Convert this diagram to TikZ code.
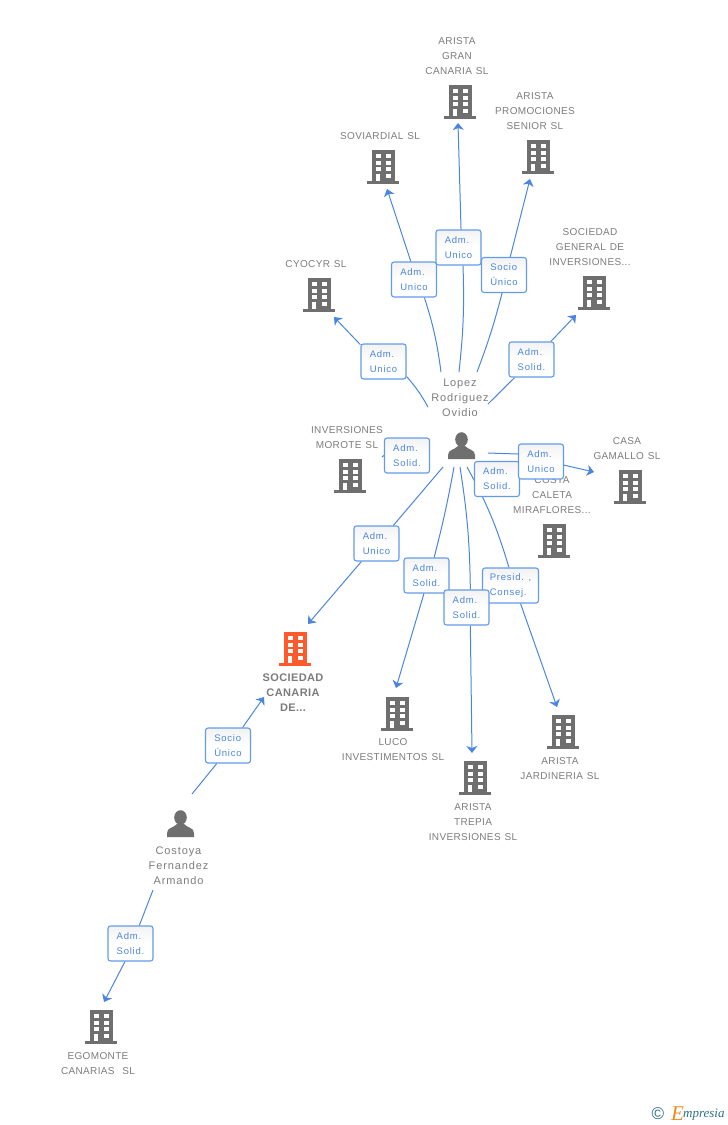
\documentclass[tikz,border=0pt]{standalone}
\usepackage{fontspec}
\setmainfont{Liberation Sans}
\newfontfamily\namefont[LetterSpace=3.5,WordSpace=1.25]{Liberation Sans}
\newfontfamily\personfont[LetterSpace=8]{Liberation Sans}
\newfontfamily\rolefont[LetterSpace=8]{Liberation Sans}
\newfontfamily\logofont{Liberation Serif}
\usetikzlibrary{arrows.meta,backgrounds}
\definecolor{iconGrey}{HTML}{6F6F6F}
\definecolor{textGrey}{HTML}{7C7C7C}
\definecolor{linkBlue}{HTML}{4A86E0}
\definecolor{boxBlue}{HTML}{629BEA}
\definecolor{mainOrange}{HTML}{FF5A2C}
\definecolor{logoTeal}{HTML}{2F6F85}
\definecolor{logoOrange}{HTML}{F08A1D}
\tikzset{
  link/.style={draw=linkBlue,line width=1pt},
  tip/.style={link,-{Stealth[length=7pt,width=11pt,inset=2pt]}},
  rolebox/.style={draw=boxBlue,line width=1.1pt,rounded corners=2.5pt,top color=black!5,bottom color=white,middle color=white,
    minimum width=45pt,minimum height=35pt,inner sep=0pt,align=left,text=linkBlue,font=\rolefont\fontsize{9.5}{15}\selectfont},
  firm/.style={align=center,inner sep=0pt,text=textGrey,font=\namefont\fontsize{10}{15}\selectfont},
  mainfirm/.style={firm,font=\namefont\bfseries\fontsize{11}{15}\selectfont},
  person/.style={align=center,inner sep=0pt,text=textGrey,font=\personfont\fontsize{11}{15}\selectfont},
  pics/bldg/.style={code={
    \fill[#1] (-16,-3) rectangle (16,0);
    \fill[#1] (-11.5,-34) rectangle (11.5,-3);
    \foreach \wy in {-30,-23.5,-17}{
      \fill[white] (-7.3,\wy) rectangle (-2.3,\wy+4);
      \fill[white] (2.7,\wy) rectangle (7.7,\wy+4);
    }
    \fill[white] (-7.3,-10.5) rectangle (-3,-3);
    \fill[white] (2.7,-10.5) rectangle (7.7,-6);
  }},
  pics/human/.style={code={
    \fill[iconGrey] (0,-19.5) ellipse (6.3 and 7.3);
    \fill[iconGrey] (-13.5,0) -- (-13.5,-4) .. controls (-13.5,-9.5) and (-7,-9) .. (-3.5,-13)
      -- (3.5,-13) .. controls (7,-9) and (13.5,-9.5) .. (13.5,-4) -- (13.5,0) -- cycle;
  }}
}
\begin{document}
\begin{tikzpicture}[x=1pt,y=-1pt]
\useasboundingbox (0,0) rectangle (728,1125);

\pic (gran) at (460,119) {bldg=iconGrey};
\pic (promo) at (538,174) {bldg=iconGrey};
\pic (soviar) at (383,184) {bldg=iconGrey};
\pic (cyocyr) at (319,312) {bldg=iconGrey};
\pic (socgen) at (594,310) {bldg=iconGrey};
\pic (morote) at (350,493) {bldg=iconGrey};
\pic (gamallo) at (630,504) {bldg=iconGrey};
\pic (caleta) at (554,558) {bldg=iconGrey};
\pic (canaria) at (295,666) {bldg=mainOrange};
\pic (luco) at (397,731) {bldg=iconGrey};
\pic (trepia) at (475,795) {bldg=iconGrey};
\pic (jardin) at (563,749) {bldg=iconGrey};
\pic (egomonte) at (101,1044) {bldg=iconGrey};
\pic (lopez) at (461.5,459) {human};
\pic (costoya) at (180.5,837) {human};

\node[firm] (granName) at (457,56) {ARISTA\\GRAN\\CANARIA SL};
\node[firm] (promoName) at (535,111) {ARISTA\\PROMOCIONES\\SENIOR SL};
\node[firm] (soviarName) at (380,136) {SOVIARDIAL SL};
\node[firm] (cyocyrName) at (316,264) {CYOCYR SL};
\node[firm] (socgenName) at (590,247) {SOCIEDAD\\GENERAL DE\\INVERSIONES...};
\node[firm] (moroteName) at (347,437.5) {INVERSIONES\\MOROTE SL};
\node[firm] (gamalloName) at (627,448.5) {CASA\\GAMALLO SL};
\node[firm] (caletaName) at (552,495) {COSTA\\CALETA\\MIRAFLORES...};
\node[mainfirm] (canariaName) at (293,692.5) {SOCIEDAD\\CANARIA\\DE...};
\node[firm] (lucoName) at (393,749.5) {LUCO\\INVESTIMENTOS SL};
\node[firm] (trepiaName) at (473,822) {ARISTA\\TREPIA\\INVERSIONES SL};
\node[firm] (jardinName) at (560,768.5) {ARISTA\\JARDINERIA SL};
\node[firm] (egomonteName) at (98,1063.5) {EGOMONTE\\CANARIAS\ \ SL};
\node[person] (lopezName) at (460,397.5) {Lopez\\Rodriguez\\Ovidio};
\node[person] (costoyaName) at (178.5,866) {Costoya\\Fernandez\\Armando};

\coordinate (cyocyrFrom) at (428,407);
\coordinate (soviarFrom) at (441,372);
\coordinate (granFrom) at (459,372);
\coordinate (promoFrom) at (477,372);
\coordinate (socgenFrom) at (488,404);
\coordinate (gamalloFrom) at (488,453);
\coordinate (canariaFrom) at (443,467);
\coordinate (lucoFrom) at (454,467);
\coordinate (trepiaFrom) at (460,467);
\coordinate (jardinFrom) at (467,467);
\coordinate (costoyaFrom) at (192,794);
\coordinate (egomonteFrom) at (153,890);
\coordinate (cyocyrTip) at (334,317);
\coordinate (soviarTip) at (387,189);
\coordinate (granTip) at (458,123);
\coordinate (promoTip) at (530,179);
\coordinate (socgenTip) at (576,315);
\coordinate (moroteStub) at (382,457);
\coordinate (gamalloTip) at (594,472);
\coordinate (canariaTip) at (308,624);
\coordinate (lucoTip) at (396,688);
\coordinate (trepiaTip) at (472,753);
\coordinate (jardinTip) at (557,707);
\coordinate (ownerTip) at (264,697);
\coordinate (egomonteTip) at (104,1002);

\node[rolebox] (cyocyrRole) at (383.5,361.5) {Adm.\\Unico};
\node[rolebox] (soviarRole) at (414,279.5) {Adm.\\Unico};
\node[rolebox] (granRole) at (458.5,247.5) {Adm.\\Unico};
\node[rolebox] (promoRole) at (504,275) {Socio\\Único};
\node[rolebox] (socgenRole) at (531.5,359.5) {Adm.\\Solid.};
\node[rolebox] (moroteRole) at (407,455.5) {Adm.\\Solid.};
\node[rolebox] (caletaRole) at (497,479) {Adm.\\Solid.};
\node[rolebox] (gamalloRole) at (541,461.5) {Adm.\\Unico};
\node[rolebox] (canariaRole) at (376.5,543.5) {Adm.\\Unico};
\node[rolebox] (lucoRole) at (426.5,575.5) {Adm.\\Solid.};
\node[rolebox,minimum width=56pt] (jardinRole) at (510.5,585.5) {Presid. ,\\Consej.};
\node[rolebox] (trepiaRole) at (466.5,607.5) {Adm.\\Solid.};
\node[rolebox] (ownerRole) at (228,745.5) {Socio\\Único};
\node[rolebox] (egomonteRole) at (130.5,943.5) {Adm.\\Solid.};

\begin{scope}[on background layer]
\draw[link] (cyocyrFrom) to[bend right=6] (cyocyrRole.-33);
\draw[tip] (cyocyrRole.144) -- (cyocyrTip);
\draw[link] (soviarFrom) to[bend right=5] (soviarRole.-60);
\draw[tip] (soviarRole.100) -- (soviarTip);
\draw[link] (granFrom) to[bend right=4] (granRole.-76);
\draw[tip] (granRole.82) -- (granTip);
\draw[link] (promoFrom) to[bend right=3] (promoRole.-96);
\draw[tip] (promoRole.71) -- (promoTip);
\draw[link] (socgenFrom) -- (socgenRole.-133);
\draw[tip] (socgenRole.43) -- (socgenTip);
\draw[link] (gamalloFrom) -- (gamalloRole.162);
\draw[tip] (gamalloRole.-9) -- (gamalloTip);
\draw[link] (canariaFrom) -- (canariaRole.47);
\draw[tip] (canariaRole.-130) -- (canariaTip);
\draw[link] (lucoFrom) to[bend left=2] (lucoRole.67);
\draw[tip] (lucoRole.-98) -- (lucoTip);
\draw[link] (trepiaFrom) to[bend left=4] (trepiaRole.78);
\draw[tip] (trepiaRole.-78) -- (trepiaTip);
\draw[link] (jardinFrom) to[bend left=6] (jardinRole.95);
\draw[tip] (jardinRole.-61) -- (jardinTip);
\draw[link] (costoyaFrom) -- (ownerRole.-122);
\draw[tip] (ownerRole.51) -- (ownerTip);
\draw[link] (egomonteFrom) -- (egomonteRole.64);
\draw[tip] (egomonteRole.-107) -- (egomonteTip);
\draw[link] (moroteRole.west) -- (moroteStub);
\end{scope}

\node[text=logoTeal,inner sep=0pt,font=\fontsize{17}{17}\selectfont] (logoMark) at (658,1114) {©};
\node[text=logoOrange,inner sep=0pt,font=\logofont\itshape\fontsize{21}{21}\selectfont] (logoInitial) at (677.5,1114) {E};
\node[text=logoTeal,inner sep=0pt,anchor=west,font=\logofont\itshape\fontsize{13}{13}\selectfont] (logoName) at (683,1114.5) {mpresia};
\end{tikzpicture}
\end{document}
